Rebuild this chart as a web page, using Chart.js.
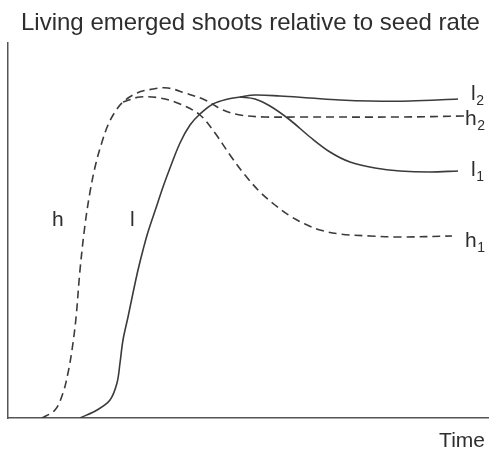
<!DOCTYPE html>
<html>
<head>
<meta charset="utf-8">
<script src="https://cdn.jsdelivr.net/npm/chart.js@4/dist/chart.umd.min.js"></script>
<style>
  html, body { margin: 0; padding: 0; background: #ffffff; }
  #c { display: block; }
</style>
</head>
<body>
<canvas id="c" width="489" height="450"></canvas>
<script>
// Values (arbitrary units: time 0..480, shoots 0..375)
const titleText = "Living emerged shoots relative to seed rate";
const xAxisLabel = "Time";

// h : early emergence (dashed) rising, continuing as h2
const hTime   = [34, 47, 55, 60, 64, 68, 72, 77, 82, 88, 94, 100, 107, 115, 129, 145, 160, 177, 197, 215, 232, 257, 292, 392, 457];
const hValue  = [0, 8, 25, 45, 68, 100, 148, 193, 226, 255, 276, 293, 306, 316, 325, 329, 330, 325, 318, 308, 303, 301, 301, 301, 302];
// h1 branch (dashed)
const h1Time  = [115, 132, 152, 172, 192, 207, 222, 237, 252, 267, 282, 297, 312, 332, 362, 392, 444];
const h1Value = [316, 321, 320, 314, 303, 285, 263, 243, 226, 213, 202, 194, 188, 184, 182, 181, 182];

// l : later emergence (solid) rising, continuing as l2
const lTime   = [72, 89, 102, 109, 112, 115, 120, 125, 130, 135, 140, 149, 155, 162, 172, 182, 192, 205, 220, 232, 247, 272, 302, 332, 362, 402, 450];
const lValue  = [0, 8, 18, 35, 55, 78, 101, 125, 148, 168, 186, 213, 231, 250, 275, 293, 304, 314, 319, 321, 323, 322, 320, 318, 317, 317, 319];
// l1 branch (solid)
const l1Time  = [232, 247, 262, 282, 302, 322, 342, 367, 392, 422, 450];
const l1Value = [321, 319, 312, 298, 281, 266, 256, 250, 247, 246, 247];

const lineColor = "#3b3b3b";
const toPts = (xs, ys) => xs.map((x, i) => ({ x: x, y: ys[i] }));

const labelPlugin = {
  id: "curveLabels",
  afterDraw(chart) {
    const ctx = chart.ctx;
    ctx.save();
    ctx.fillStyle = "#2e2e2e";
    ctx.textBaseline = "alphabetic";
    // title
    ctx.font = "24px 'Liberation Sans', Arial, sans-serif";
    ctx.textAlign = "left";
    ctx.fillText(titleText, 21, 30);
    // x axis label
    ctx.font = "21px 'Liberation Sans', Arial, sans-serif";
    ctx.textAlign = "right";
    ctx.fillText(xAxisLabel, 485, 447);
    // curve labels
    ctx.textAlign = "left";
    const main = "21px 'Liberation Sans', Arial, sans-serif";
    const sub = "14px 'Liberation Sans', Arial, sans-serif";
    const put = (txt, s, x, y) => {
      ctx.font = main;
      ctx.fillText(txt, x, y);
      if (s) {
        const w = ctx.measureText(txt).width;
        ctx.font = sub;
        ctx.fillText(s, x + w + 0.5, y + 5);
      }
    };
    put("h", "", 52, 226);
    put("l", "", 130, 226);
    put("l", "2", 471, 100);
    put("h", "2", 465, 125);
    put("l", "1", 471, 176);
    put("h", "1", 465, 247);
    ctx.restore();
  }
};

const common = {
  showLine: true,
  pointRadius: 0,
  pointHoverRadius: 0,
  borderColor: lineColor,
  backgroundColor: lineColor,
  borderWidth: 1.6,
  tension: 0.35,
  fill: false
};

new Chart(document.getElementById("c"), {
  type: "scatter",
  data: {
    datasets: [
      Object.assign({ label: "h", data: toPts(hTime, hValue), borderDash: [8, 5] }, common),
      Object.assign({ label: "h1", data: toPts(h1Time, h1Value), borderDash: [8, 5] }, common),
      Object.assign({ label: "l", data: toPts(lTime, lValue) }, common),
      Object.assign({ label: "l1", data: toPts(l1Time, l1Value) }, common)
    ]
  },
  options: {
    responsive: false,
    animation: false,
    devicePixelRatio: 1,
    layout: { padding: { left: 8, right: 1, top: 43, bottom: 32 } },
    plugins: {
      colors: { enabled: false },
      legend: { display: false },
      title: { display: false },
      tooltip: { enabled: false }
    },
    scales: {
      x: {
        type: "linear", min: 0, max: 480,
        ticks: { display: false },
        grid: { display: false, drawTicks: false },
        border: { display: true, color: "#555555", width: 1.5 },
        afterFit: s => { s.height = 0; }
      },
      y: {
        type: "linear", min: 0, max: 375,
        ticks: { display: false },
        grid: { display: false, drawTicks: false },
        border: { display: true, color: "#555555", width: 1.5 },
        afterFit: s => { s.width = 0; }
      }
    }
  },
  plugins: [labelPlugin]
});
</script>
</body>
</html>
